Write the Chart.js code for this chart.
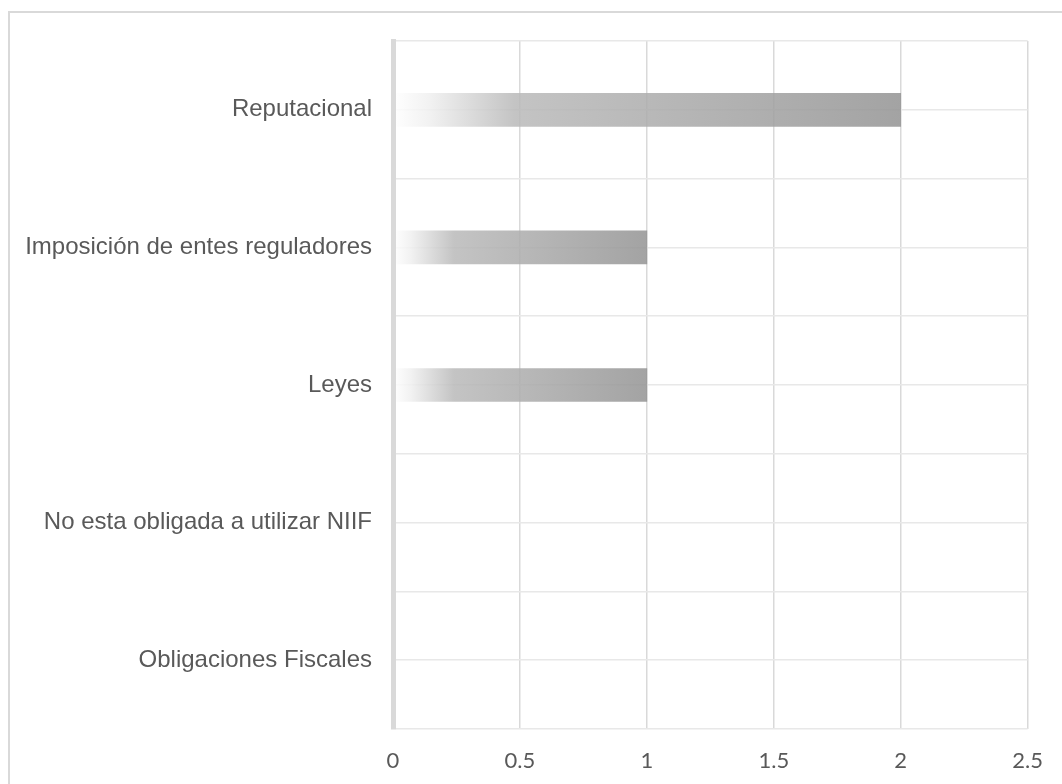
<!DOCTYPE html>
<html>
<head>
<meta charset="utf-8">
<script src="https://cdn.jsdelivr.net/npm/chart.js@4/dist/chart.umd.min.js"></script>
<style>
  html, body { margin: 0; padding: 0; background: #ffffff; }
  body { width: 1062px; height: 784px; position: relative; overflow: hidden; }
  #frame {
    position: absolute; left: 8px; top: 11px; width: 1100px; height: 800px;
    border-left: 2px solid #d9d9d9; border-top: 2px solid #d9d9d9;
  }
  #wrap { position: absolute; left: 0; top: 0; width: 1062px; height: 784px; }
</style>
</head>
<body>
<div id="frame"></div>
<div id="wrap"><canvas id="chart" width="1062" height="784"></canvas></div>
<script>
// Motivos y número de respuestas
const categories = [
  'Reputacional',
  'Imposición de entes reguladores',
  'Leyes',
  'No esta obligada a utilizar NIIF',
  'Obligaciones Fiscales'
];
const values = [2, 1, 1, 0, 0];
const xTicks = [0, 0.5, 1, 1.5, 2, 2.5];

const TEXT = '#595959';

// Horizontal gradient that fades from white at the base of each bar to gray at its end
function barGradient(ctx) {
  const chart = ctx.chart;
  if (!chart.chartArea || ctx.type !== 'data' || !ctx.raw) return 'rgba(0,0,0,0)';
  const xs = chart.scales.x;
  const x0 = xs.getPixelForValue(0);
  const x1 = xs.getPixelForValue(ctx.raw);
  const g = chart.ctx.createLinearGradient(x0, 0, x1, 0);
  g.addColorStop(0, 'rgba(255,255,255,0.86)');
  g.addColorStop(0.07, 'rgba(240,240,240,0.86)');
  g.addColorStop(0.24, 'rgba(186,186,186,0.86)');
  g.addColorStop(1, 'rgba(148,148,148,0.86)');
  return g;
}

new Chart(document.getElementById('chart'), {
  type: 'bar',
  data: {
    labels: categories,
    datasets: [{
      data: values,
      backgroundColor: barGradient,
      borderWidth: 0,
      barThickness: 33
    }]
  },
  options: {
    indexAxis: 'y',
    responsive: false,
    animation: false,
    layout: { padding: { top: 41, right: 34, left: 0, bottom: 0 } },
    plugins: {
      legend: { display: false },
      tooltip: { enabled: false }
    },
    scales: {
      x: {
        type: 'linear',
        position: 'bottom',
        min: 0,
        max: 2.5,
        afterBuildTicks: (scale) => { scale.ticks = xTicks.map(v => ({ value: v })); },
        ticks: {
          color: TEXT,
          font: { family: 'Lato', size: 22 },
          padding: 19,
          callback: (v) => String(v)
        },
        grid: {
          color: '#d9d9d9',
          lineWidth: 1.5,
          drawTicks: false
        },
        border: { display: false },
        afterFit: (scale) => { scale.height = 55; }
      },
      y: {
        type: 'category',
        position: 'left',
        offset: true,
        ticks: {
          color: TEXT,
          font: { family: 'Liberation Sans', size: 24 },
          padding: 21
        },
        grid: {
          offset: true,
          color: '#e8e8e8',
          lineWidth: 1.5,
          drawTicks: false
        },
        // thick value axis line at zero, drawn above the bars
        border: { display: true, color: '#d9d9d9', width: 5, z: 1 },
        afterFit: (scale) => { scale.width = 393; }
      },
      // Extra category axis that only supplies the lines through each category centre
      yMid: {
        type: 'category',
        position: 'left',
        labels: categories,
        offset: true,
        ticks: { display: false },
        grid: {
          offset: false,
          color: '#e8e8e8',
          lineWidth: 1.5,
          drawTicks: false
        },
        border: { display: false },
        afterFit: (scale) => { scale.width = 0; }
      }
    }
  }
});
</script>
</body>
</html>
